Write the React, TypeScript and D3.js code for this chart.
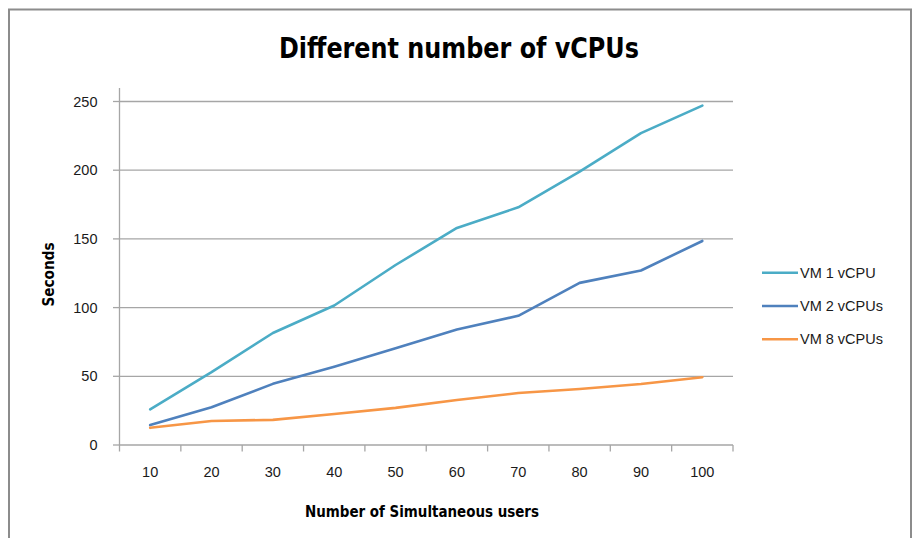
import React from "react";
import * as d3 from "d3";

const categories = ["10", "20", "30", "40", "50", "60", "70", "80", "90", "100"];
const vm1 = [26, 53, 81.5, 101.5, 131, 158, 173, 199, 227, 247];
const vm2 = [14.5, 27.5, 44.5, 57, 70.5, 84, 94, 118, 127, 148.5];
const vm8 = [12.5, 17.5, 18.3, 22.6, 27, 32.8, 37.8, 40.8, 44.4, 49.3];
const yTicks = [0, 50, 100, 150, 200, 250];
const seriesNames = ["VM 1 vCPU", "VM 2 vCPUs", "VM 8 vCPUs"];
const seriesColors = ["#4BACC6", "#4F81BD", "#F79646"];

const W = 915;
const H = 538;
const plot = { left: 119.5, right: 733, top: 101.5, bottom: 445 };
const labelFont = "'Liberation Sans', Arial, sans-serif";
const boldFont = "'Liberation Sans Narrow', 'DejaVu Sans Condensed', 'Liberation Sans', sans-serif";

export default function App() {
  const x = d3.scaleBand<string>().domain(categories).range([plot.left, plot.right]).padding(0);
  const y = d3.scaleLinear().domain([0, 250]).range([plot.bottom, plot.top]);
  const series = [vm1, vm2, vm8];
  const line = d3
    .line<number>()
    .x((_, i) => (x(categories[i]) as number) + x.bandwidth() / 2)
    .y((d) => y(d));
  const grid = "#A6A6A6";
  const tickEdges = [...categories.map((c) => x(c) as number), plot.right];

  return (
    <svg width={W} height={H} style={{ position: "absolute", left: 0, top: 0, background: "#fff" }}>
      <rect x={0} y={0} width={W} height={H} fill="#fff" />
      <rect x={9} y={9.5} width={902} height={H + 10} fill="none" stroke="#8C8C8C" strokeWidth={2} />
      <text
        x={459}
        y={58}
        textAnchor="middle"
        fontFamily={boldFont}
        fontWeight="bold"
        fontSize={28}
        textLength={360}
        lengthAdjust="spacingAndGlyphs"
        fill="#000"
      >
        Different number of vCPUs
      </text>
      {yTicks.map((t) => (
        <g key={t}>
          {t > 0 && <line x1={plot.left} x2={plot.right} y1={y(t)} y2={y(t)} stroke={grid} strokeWidth={1.3} />}
          <line x1={plot.left - 6.5} x2={plot.left} y1={y(t)} y2={y(t)} stroke={grid} strokeWidth={1.3} />
          <text
            x={97.5}
            y={y(t) + 5}
            textAnchor="end"
            fontFamily={labelFont}
            fontSize={14.5}
            fill="#1a1a1a"
          >
            {t}
          </text>
        </g>
      ))}
      <line x1={plot.left} x2={plot.left} y1={88} y2={plot.bottom} stroke={grid} strokeWidth={1.3} />
      <line x1={plot.left} x2={plot.right} y1={plot.bottom} y2={plot.bottom} stroke={grid} strokeWidth={1.3} />
      {tickEdges.map((e, i) => (
        <line key={i} x1={e} x2={e} y1={plot.bottom} y2={plot.bottom + 6.5} stroke={grid} strokeWidth={1.3} />
      ))}
      {categories.map((c) => (
        <text
          key={c}
          x={(x(c) as number) + x.bandwidth() / 2}
          y={477}
          textAnchor="middle"
          fontFamily={labelFont}
          fontSize={14.5}
          fill="#1a1a1a"
        >
          {c}
        </text>
      ))}
      <text
        x={422}
        y={517}
        textAnchor="middle"
        fontFamily={boldFont}
        fontWeight="bold"
        fontSize={15}
        textLength={234}
        lengthAdjust="spacingAndGlyphs"
        fill="#000"
      >
        Number of Simultaneous users
      </text>
      <text
        transform={`translate(54,274.5) rotate(-90)`}
        textAnchor="middle"
        fontFamily={boldFont}
        fontWeight="bold"
        fontSize={15}
        textLength={64}
        lengthAdjust="spacingAndGlyphs"
        fill="#000"
      >
        Seconds
      </text>
      {series.map((s, i) => (
        <path
          key={i}
          d={line(s) as string}
          fill="none"
          stroke={seriesColors[i]}
          strokeWidth={2.6}
          strokeLinejoin="round"
          strokeLinecap="round"
        />
      ))}
      {seriesNames.map((n, i) => (
        <g key={n} transform={`translate(0,${272.7 + i * 33.3})`}>
          <line x1={762} x2={798} y1={0} y2={0} stroke={seriesColors[i]} strokeWidth={2.6} />
          <text x={800} y={5} fontFamily={labelFont} fontSize={14.5} fill="#1a1a1a">
            {n}
          </text>
        </g>
      ))}
    </svg>
  );
}
